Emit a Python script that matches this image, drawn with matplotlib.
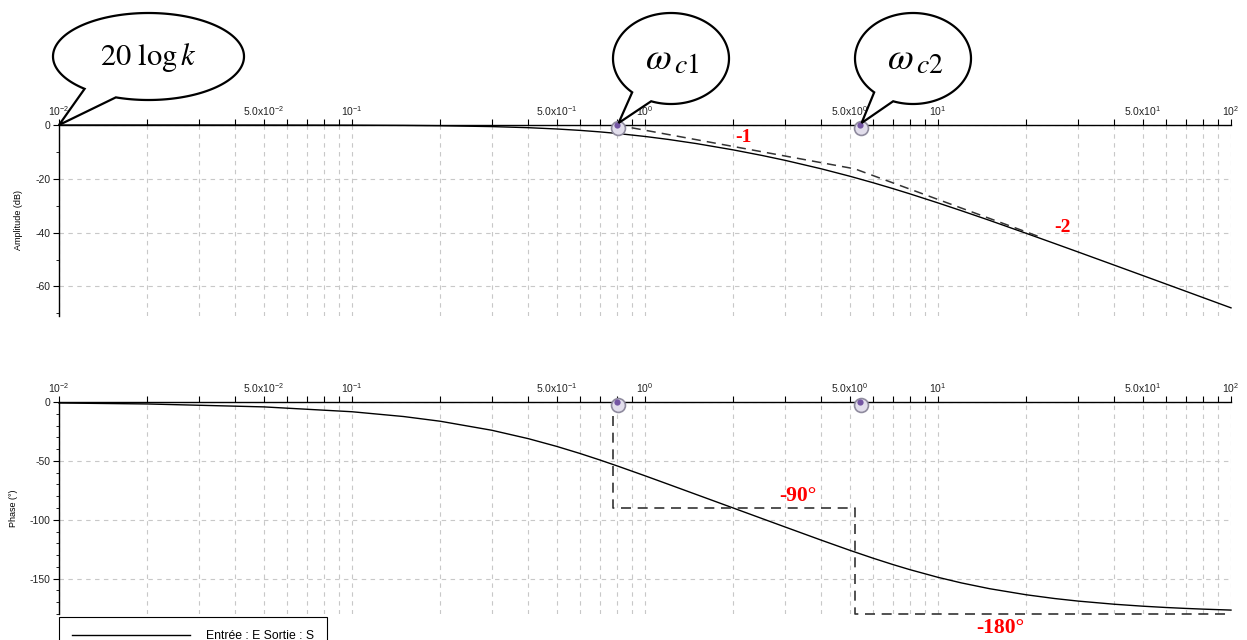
import numpy as np
import matplotlib
matplotlib.use('Agg')
import matplotlib.pyplot as plt
from matplotlib.patches import Polygon
from matplotlib.ticker import MultipleLocator, NullLocator
from matplotlib.transforms import offset_copy

plt.rcParams['font.family'] = ['Liberation Sans', 'DejaVu Sans']
plt.rcParams['axes.unicode_minus'] = False
plt.rcParams['mathtext.fontset'] = 'custom'
plt.rcParams['mathtext.rm'] = 'Liberation Sans'
plt.rcParams['mathtext.it'] = 'Liberation Sans:italic'
plt.rcParams['mathtext.bf'] = 'Liberation Sans:bold'

# values
freq = [0.01, 0.02, 0.05, 0.1, 0.15, 0.2, 0.3, 0.4, 0.5, 0.6, 0.7, 0.8, 1.0, 1.2,
        1.5, 2, 2.5, 3, 4, 5, 6, 7, 8, 10, 12, 15, 20, 25, 30, 40, 50, 60, 70, 80, 100]
gain_db = [0.0, 0.0, -0.02, -0.07, -0.15, -0.27, -0.59, -1.0, -1.48, -2.0, -2.55, -3.12,
           -4.26, -5.36, -6.92, -9.25, -11.29, -13.11, -16.3, -19.04, -21.45, -23.61,
           -25.56, -28.96, -31.84, -35.46, -40.27, -44.05, -47.16, -52.11, -55.96,
           -59.11, -61.78, -64.1, -67.97]
phase_deg = [-0.83, -1.66, -4.15, -8.27, -12.34, -16.33, -23.99, -31.14, -37.72, -43.71,
             -49.16, -54.09, -62.65, -69.81, -78.63, -90.0, -98.83, -106.03, -117.35,
             -125.91, -132.6, -137.94, -142.28, -148.86, -153.57, -158.52, -163.67,
             -166.86, -169.01, -171.72, -173.37, -174.48, -175.26, -175.85, -176.68]

# asymptotes (dashed)
gain_asym_w = [0.8, 5.2, 22]
gain_asym_db = [0, -16.3, -41.4]
phase_asym_w = [0.78, 0.78, 5.2, 5.2, 100]
phase_asym_deg = [-12, -90, -90, -180, -180]

# cut-off markers
marker_w = [0.8, 5.4]

# slope labels
gain_notes = [(2.16, -4.6, '-1'), (26.5, -38.1, '-2')]
phase_notes = [(3.33, -79.7, '-90°'), (16.3, -191.5, '-180°')]

legend_label = 'Entrée : E Sortie : S'

W, H = 1247, 640
fig = plt.figure(figsize=(W / 100, H / 100), dpi=100)


def px_axes(left, top, right, bottom):
    return fig.add_axes([left / W, 1 - bottom / H, (right - left) / W, (bottom - top) / H])


def tick_label(t):
    k = int(np.floor(np.log10(t) + 1e-9))
    n = int(round(t / 10.0 ** k))
    if n == 1:
        return rf'$10^{{{k}}}$'
    if n == 5:
        return rf'$5.0\mathrm{{x}}10^{{{k}}}$'
    return ''


def style(ax, ylim, major, minor):
    ax.set_xscale('log')
    ax.set_xlim(0.01, 100)
    ax.set_ylim(*ylim)
    ticks = [n * 10.0 ** k for k in range(-2, 2) for n in range(1, 10)] + [100.0]
    ax.set_xticks(ticks, [tick_label(t) for t in ticks])
    ax.xaxis.set_minor_locator(NullLocator())
    ax.xaxis.tick_top()
    ax.tick_params(axis='x', which='both', direction='out', length=4, pad=1,
                   labelsize=7.5, labelcolor='#222222')
    ax.yaxis.set_major_locator(MultipleLocator(major))
    ax.yaxis.set_minor_locator(MultipleLocator(minor))
    ax.tick_params(axis='y', which='major', direction='out', length=4, pad=2,
                   labelsize=7.5, labelcolor='#222222')
    ax.tick_params(axis='y', which='minor', direction='out', length=2.5)
    for s in ['bottom', 'right']:
        ax.spines[s].set_visible(False)
    for s in ['top', 'left']:
        ax.spines[s].set_linewidth(1)
    ax.grid(True, which='major', ls=(0, (4, 4)), color='#c8c8c8', lw=0.8)
    ax.set_axisbelow(True)
    ax.patch.set_alpha(0)


ax1 = px_axes(59, 125, 1231, 316)
ax2 = px_axes(59, 402, 1231, 614)
style(ax1, (-71, 0), 20, 10)
style(ax2, (-180, 0), 50, 10)

ax1.set_ylabel('Amplitude (dB)', fontsize=6.5)
ax1.yaxis.set_label_coords(-0.031, 0.5)
ax2.set_ylabel('Phase (°)', fontsize=6.5)
ax2.yaxis.set_label_coords(-0.035, 0.5)

ax1.plot(freq, gain_db, color='black', lw=1, clip_on=False, zorder=3)
ax2.plot(freq, phase_deg, color='black', lw=1, clip_on=False, zorder=3, label=legend_label)

dash = (0, (6, 4))
ax1.plot(gain_asym_w, gain_asym_db, color='#333333', lw=1.1, ls=dash, clip_on=False, zorder=3)
ax2.plot(phase_asym_w, phase_asym_deg, color='#333333', lw=1.2, ls=dash, clip_on=False, zorder=3)

for ax in (ax1, ax2):
    halo = offset_copy(ax.transData, fig, x=1.5, y=-3, units='dots')
    ax.plot(marker_w, [0] * len(marker_w), 'o', ms=10, mfc='#e2deec', mec='#8f8b9e', mew=1.2,
            transform=halo, clip_on=False, zorder=5)
    ax.plot(marker_w, [0] * len(marker_w), 'o', ms=4.5, color='#7456a3', mew=0,
            clip_on=False, zorder=6)

serif = ['Liberation Serif', 'DejaVu Serif']
for x, y, s in gain_notes:
    ax1.text(x, y, s, color='red', fontsize=14, fontweight='bold',
             family=serif, ha='center', va='center')
for x, y, s in phase_notes:
    ax2.text(x, y, s, color='red', fontsize=15.5, fontweight='bold',
             family=serif, ha='center', va='center')

leg = ax2.legend(loc='upper left', bbox_to_anchor=(0, -3 / 212), borderaxespad=0, fontsize=8.8,
                 handlelength=9.6, handletextpad=1.3, borderpad=1.1, fancybox=False,
                 edgecolor='black', framealpha=1)
leg.get_frame().set_linewidth(0.8)

# speech bubbles drawn in pixel space
ov = fig.add_axes([0, 0, 1, 1], zorder=10)
ov.set_xlim(0, W)
ov.set_ylim(H, 0)
ov.axis('off')
ov.patch.set_alpha(0)


def to_px(ax, x, y):
    return ov.transData.inverted().transform(ax.transData.transform((x, y)))


def bubble(cx, cy, rx, ry, tip, t_a=110, t_b=132):
    ts = np.radians(np.linspace(t_b, t_a + 360, 240))
    pts = np.column_stack([cx + rx * np.cos(ts), cy + ry * np.sin(ts)])
    pts = np.vstack([pts, tip])
    ov.add_patch(Polygon(pts, closed=True, fc='white', ec='black', lw=1.6, joinstyle='miter'))


bubble(148.5, 56.5, 95.5, 43.5, to_px(ax1, 0.01, 0))
ov.text(148, 57, r'$20\ \log k$', fontsize=22, math_fontfamily='stix', ha='center', va='center')

for i, (cx, sub) in enumerate([(671, '1'), (913, '2')]):
    bubble(cx, 58.5, 58, 45.5, to_px(ax1, marker_w[i], 0) + [2, -2])
    ov.text(cx + 1, 59, r'$\omega$', fontsize=27, math_fontfamily='stix', ha='right', va='center')
    ov.text(cx + 3, 66, rf'$c\mathrm{{{sub}}}$', fontsize=20, math_fontfamily='stix',
            ha='left', va='center')

fig.savefig('out.png', dpi=100)
